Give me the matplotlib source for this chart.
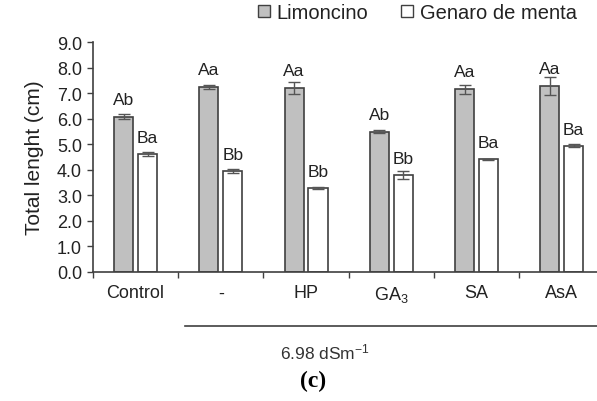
import matplotlib.pyplot as plt
import matplotlib.patches as mpatches
import numpy as np

plt.rcParams['font.family'] = ['Liberation Sans', 'DejaVu Sans']
plt.rcParams['mathtext.default'] = 'regular'

treatments = ['Control', '-', 'HP', 'GA$_3$', 'SA', 'AsA']
limoncino = [6.08, 7.24, 7.19, 5.49, 7.15, 7.28]
limoncino_err = [0.10, 0.08, 0.24, 0.07, 0.18, 0.35]
limoncino_lbl = ['Ab', 'Aa', 'Aa', 'Ab', 'Aa', 'Aa']
genaro = [4.62, 3.95, 3.29, 3.79, 4.41, 4.94]
genaro_err = [0.07, 0.08, 0.05, 0.15, 0.03, 0.06]
genaro_lbl = ['Ba', 'Bb', 'Bb', 'Bb', 'Ba', 'Ba']

dark = '#404040'
fig = plt.figure(figsize=(5.97, 4.02), dpi=100)
ax = fig.add_axes([0.1558, 0.3209, 0.8442, 0.5721])

x = np.arange(len(treatments))
w = 0.225
off = 0.14
ax.bar(x - off, limoncino, w, color='#c0c0c0', edgecolor=dark, linewidth=1.2,
       yerr=limoncino_err, error_kw=dict(ecolor='#555555', capsize=4, elinewidth=1, capthick=1))
ax.bar(x + off, genaro, w, color='white', edgecolor=dark, linewidth=1.2,
       yerr=genaro_err, error_kw=dict(ecolor='#555555', capsize=4, elinewidth=1, capthick=1))

for i in range(len(treatments)):
    ax.annotate(limoncino_lbl[i], (x[i] - off, limoncino[i]), xytext=(0, 12.5),
                textcoords='offset points', ha='center', va='center', fontsize=12.5, color='#222222')
    ax.annotate(genaro_lbl[i], (x[i] + off, genaro[i]), xytext=(0, 12),
                textcoords='offset points', ha='center', va='center', fontsize=12.5, color='#222222')

ax.set_xlim(-0.5, 5.415)
ax.set_ylim(0, 9)
ax.set_yticks(np.arange(0, 9.1, 1.0))
ax.set_yticklabels(['%.1f' % v for v in np.arange(0, 9.1, 1.0)], fontsize=13, color='#222222')
ax.set_xticks(np.arange(-0.5, 5.0, 1.0))
ax.set_xticklabels([])
ax.set_xticks(x, minor=True)
ax.set_xticklabels(treatments, minor=True, fontsize=13, color='#222222')
ax.tick_params(axis='x', which='minor', length=0, pad=9)
ax.tick_params(axis='both', which='major', length=4, width=1, color=dark, direction='out')
ax.tick_params(axis='y', pad=4)
for s in ['top', 'right']:
    ax.spines[s].set_visible(False)
for s in ['left', 'bottom']:
    ax.spines[s].set_color(dark)
    ax.spines[s].set_linewidth(1.2)

ax.set_ylabel('Total lenght (cm)', fontsize=15, color='#222222', labelpad=9)

handles = [mpatches.Patch(facecolor='#c0c0c0', edgecolor=dark, linewidth=1),
           mpatches.Patch(facecolor='white', edgecolor=dark, linewidth=1)]
fig.legend(handles, ['Limoncino', 'Genaro de menta'], loc='upper left',
           bbox_to_anchor=(0.418, 1.01), ncol=2, frameon=False, fontsize=14.5,
           handlelength=0.6, handleheight=0.6, handletextpad=0.35, columnspacing=1.6,
           borderaxespad=0, labelcolor='#222222')

fig.add_artist(plt.Line2D([0.31, 1.0], [0.1866, 0.1866], color=dark, linewidth=1.2))
fig.text(0.544, 0.124, '6.98 dSm$^{-1}$', ha='center', va='center', fontsize=12.5, color='#333333')
fig.text(0.524, 0.05, '(c)', ha='center', va='center', fontsize=17, fontweight='bold',
         family='Liberation Serif', color='black')

fig.savefig('out.png', dpi=100)
